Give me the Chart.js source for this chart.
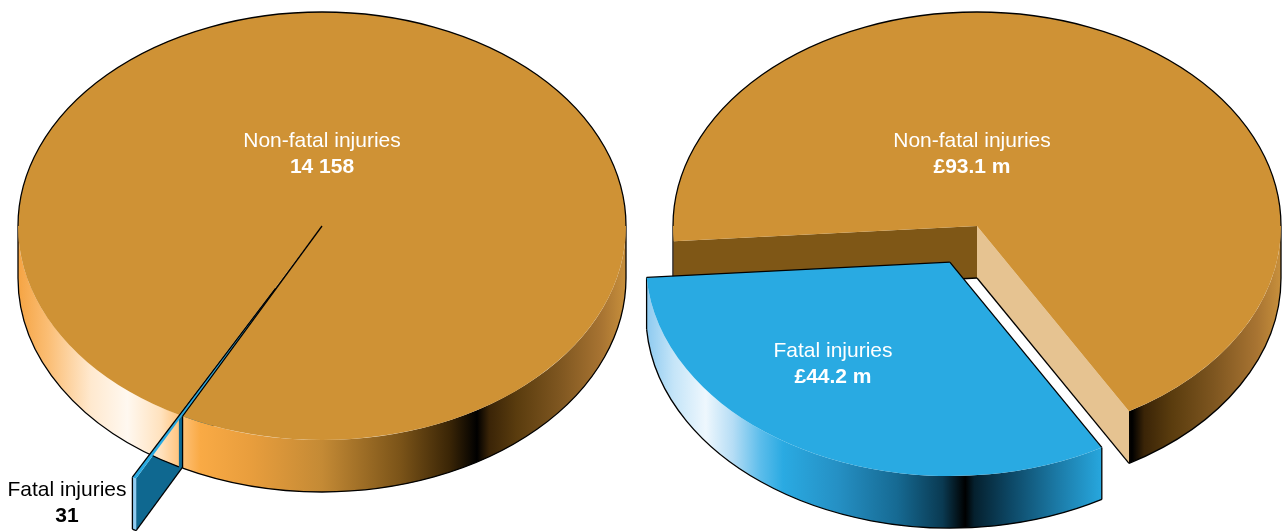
<!DOCTYPE html>
<html>
<head>
<meta charset="utf-8">
<script src="https://cdn.jsdelivr.net/npm/chart.js@4.4.1/dist/chart.umd.min.js"></script>
<style>
  html, body { margin: 0; padding: 0; background: #fff; }
  #wrap { position: relative; width: 1282px; height: 531px; overflow: hidden; }
  .pane { position: absolute; top: 0; width: 641px; height: 531px; }
  canvas { display: block; }
</style>
</head>
<body>
<div id="wrap">
  <div class="pane" style="left:0"><canvas id="countChart" width="641" height="531"></canvas></div>
  <div class="pane" style="left:641px"><canvas id="costChart" width="641" height="531"></canvas></div>
</div>
<script>
// data
const categories = ['Fatal injuries', 'Non-fatal injuries'];
const injuryCounts = [31, 14158];
const injuryCosts = [44.2, 93.1];
const countText = ['31', '14 158'];
const costText = ['£44.2 m', '£93.1 m'];

// 3d look
const DEPTH = 52;
const TILT = 0.704;

const ORANGE = {
  top: '#cf9235', dark: '#7f5716', light: '#e6c391',
  stops: [[0, '#f5a443'], [0.05, '#fbbe75'], [0.12, '#ffe9cf'], [0.18, '#fff8f0'], [0.235, '#ffe2be'],
    [0.265, '#ffc47e'], [0.3, '#f9aa45'], [0.38, '#e99e3d'], [0.5, '#c48a35'], [0.63, '#7a5318'],
    [0.71, '#3a2506'], [0.755, '#000000'], [0.775, '#3a2407'], [0.82, '#5a3c0e'], [0.89, '#7e5620'],
    [0.96, '#a87432'], [1, '#c8903c']]
};
const BLUE = {
  top: '#29aae2', dark: '#0f6890', light: '#a9d9f2',
  stops: [[0, '#8dcaf0'], [0.06, '#c5e5f8'], [0.13, '#eef7fd'], [0.19, '#b5ddf5'], [0.25, '#5cbdeb'],
    [0.3, '#2aaae2'], [0.42, '#2590c4'], [0.55, '#166a93'], [0.65, '#0a3a52'], [0.7, '#000000'],
    [0.72, '#05202e'], [0.8, '#0d4866'], [0.9, '#1b79a5'], [1, '#27a7de']]
};

const TAU = Math.PI * 2;

function pt(s, a, dz) {
  return [s.cx + s.rx * Math.cos(a), s.cy + s.ry * Math.sin(a) + (dz || 0)];
}

function vline(ctx, s, a) {
  const [x, y] = pt(s, a);
  ctx.beginPath();
  ctx.moveTo(x, y);
  ctx.lineTo(x, y + DEPTH);
  ctx.stroke();
}

function xExtent(s) {
  let lo = Math.min(Math.cos(s.a1), Math.cos(s.a2));
  let hi = Math.max(Math.cos(s.a1), Math.cos(s.a2));
  for (let k = -2; k <= 5; k++) {
    const a = k * Math.PI;
    if (a > s.a1 && a < s.a2) {
      lo = Math.min(lo, Math.cos(a));
      hi = Math.max(hi, Math.cos(a));
    }
  }
  let x0 = s.cx + s.rx * lo, x1 = s.cx + s.rx * hi;
  if (x1 - x0 < 20) x1 = x0 + s.rx * 2;
  return [x0, x1];
}

function radialWall(ctx, s, a, fill) {
  const [ex, ey] = pt(s, a);
  ctx.beginPath();
  ctx.moveTo(s.cx, s.cy);
  ctx.lineTo(ex, ey);
  ctx.lineTo(ex, ey + DEPTH);
  ctx.lineTo(s.cx, s.cy + DEPTH);
  ctx.closePath();
  ctx.fillStyle = fill;
  ctx.fill();
  ctx.beginPath();
  ctx.moveTo(s.cx, s.cy + DEPTH);
  ctx.lineTo(ex, ey + DEPTH);
  ctx.stroke();
  if (Math.sin(a) <= 0) vline(ctx, s, a);
}

function outerWall(ctx, s) {
  const [x0, x1] = xExtent(s);
  const grad = ctx.createLinearGradient(x0, 0, x1, 0);
  s.look.stops.forEach(([o, c]) => grad.addColorStop(o, c));
  for (let k = -1; k <= 2; k++) {
    const lo = Math.max(s.a1, TAU * k);
    const hi = Math.min(s.a2, TAU * k + Math.PI);
    if (hi - lo < 1e-6) continue;
    ctx.beginPath();
    ctx.ellipse(s.cx, s.cy, s.rx, s.ry, 0, lo, hi);
    ctx.ellipse(s.cx, s.cy + DEPTH, s.rx, s.ry, 0, hi, lo, true);
    ctx.closePath();
    ctx.fillStyle = grad;
    ctx.fill();
    ctx.beginPath();
    ctx.ellipse(s.cx, s.cy + DEPTH, s.rx, s.ry, 0, lo, hi);
    ctx.stroke();
    if (lo > s.a1 || !s.showStart) vline(ctx, s, lo);
    if (hi < s.a2 || !s.showEnd) vline(ctx, s, hi);
  }
}

function topFace(ctx, s) {
  ctx.beginPath();
  ctx.moveTo(s.cx, s.cy);
  ctx.ellipse(s.cx, s.cy, s.rx, s.ry, 0, s.a1, s.a2);
  ctx.closePath();
  ctx.fillStyle = s.look.top;
  ctx.fill();
  // back rim is the only part of the arc that shows an outline
  for (let k = -1; k <= 2; k++) {
    const lo = Math.max(s.a1, TAU * k + Math.PI);
    const hi = Math.min(s.a2, TAU * (k + 1));
    if (hi - lo < 1e-6) continue;
    ctx.beginPath();
    ctx.ellipse(s.cx, s.cy, s.rx, s.ry, 0, lo, hi);
    ctx.stroke();
  }
  [[s.a1, s.showStart], [s.a2, s.showEnd]].forEach(([a, shown]) => {
    if (shown) return;
    const [x, y] = pt(s, a);
    ctx.beginPath();
    ctx.moveTo(s.cx, s.cy);
    ctx.lineTo(x, y);
    ctx.stroke();
  });
}

function pie3d(looks, valueText, labelAt, labelInk) {
  return {
    id: 'pie3d',
    beforeDatasetsDraw(chart) {
      const ctx = chart.ctx;
      const arcs = chart.getDatasetMeta(0).data;
      const slices = arcs.map((arc, i) => {
        const p = arc.getProps(['x', 'y', 'startAngle', 'endAngle', 'outerRadius']);
        const mid = (p.startAngle + p.endAngle) / 2;
        const off = arc.options.offset || 0;
        return {
          i: i, a1: p.startAngle, a2: p.endAngle, mid: mid,
          ox: p.x, oy: p.y,
          cx: p.x + Math.cos(mid) * off,
          cy: p.y + Math.sin(mid) * off * TILT,
          rx: p.outerRadius, ry: p.outerRadius * TILT,
          showStart: Math.cos(p.startAngle) < 0,
          showEnd: Math.cos(p.endAngle) > 0,
          look: looks[i]
        };
      });
      const order = slices.slice().sort((a, b) => Math.sin(a.mid) - Math.sin(b.mid));

      ctx.save();
      ctx.strokeStyle = '#000';
      ctx.lineWidth = 1.3;
      ctx.lineJoin = 'round';

      order.forEach(s => {
        if (s.showStart) radialWall(ctx, s, s.a1, s.look.dark);
        if (s.showEnd) radialWall(ctx, s, s.a2, s.look.light);
      });
      order.forEach(s => outerWall(ctx, s));
      order.forEach(s => topFace(ctx, s));

      // labels
      ctx.textAlign = 'center';
      ctx.textBaseline = 'alphabetic';
      slices.forEach(s => {
        const [dx, dy] = labelAt[s.i];
        const x = s.ox + dx, y = s.oy + dy;
        ctx.fillStyle = labelInk[s.i];
        ctx.font = '21px "Liberation Sans", Arial, sans-serif';
        ctx.fillText(categories[s.i], x, y);
        ctx.font = 'bold 21px "Liberation Sans", Arial, sans-serif';
        ctx.fillText(valueText[s.i], x, y + 26);
      });
      ctx.restore();
      return false;
    }
  };
}

function makePie(id, values, valueText, opts) {
  return new Chart(document.getElementById(id), {
    type: 'pie',
    data: {
      labels: categories,
      datasets: [{ data: values, offset: opts.offset, borderWidth: 0 }]
    },
    options: {
      responsive: false,
      animation: false,
      events: [],
      radius: 304,
      rotation: opts.rotation,
      layout: { padding: opts.padding },
      plugins: { legend: { display: false }, tooltip: { enabled: false } }
    },
    plugins: [pie3d(opts.looks, valueText, opts.labelAt, opts.labelInk)]
  });
}

makePie('countChart', injuryCounts, countText, {
  rotation: 207.3,
  offset: [100, 0],
  padding: { left: 3, right: 0, top: 0, bottom: 79 },
  looks: [BLUE, ORANGE],
  labelAt: [[-255, 270], [0, -79]],
  labelInk: ['#000000', '#ffffff']
});

makePie('costChart', injuryCosts, costText, {
  rotation: 150,
  offset: [58, 0],
  padding: { left: 31, right: 0, top: 0, bottom: 79 },
  looks: [BLUE, ORANGE],
  labelAt: [[-144, 131], [-5, -79]],
  labelInk: ['#ffffff', '#ffffff']
});
</script>
</body>
</html>
